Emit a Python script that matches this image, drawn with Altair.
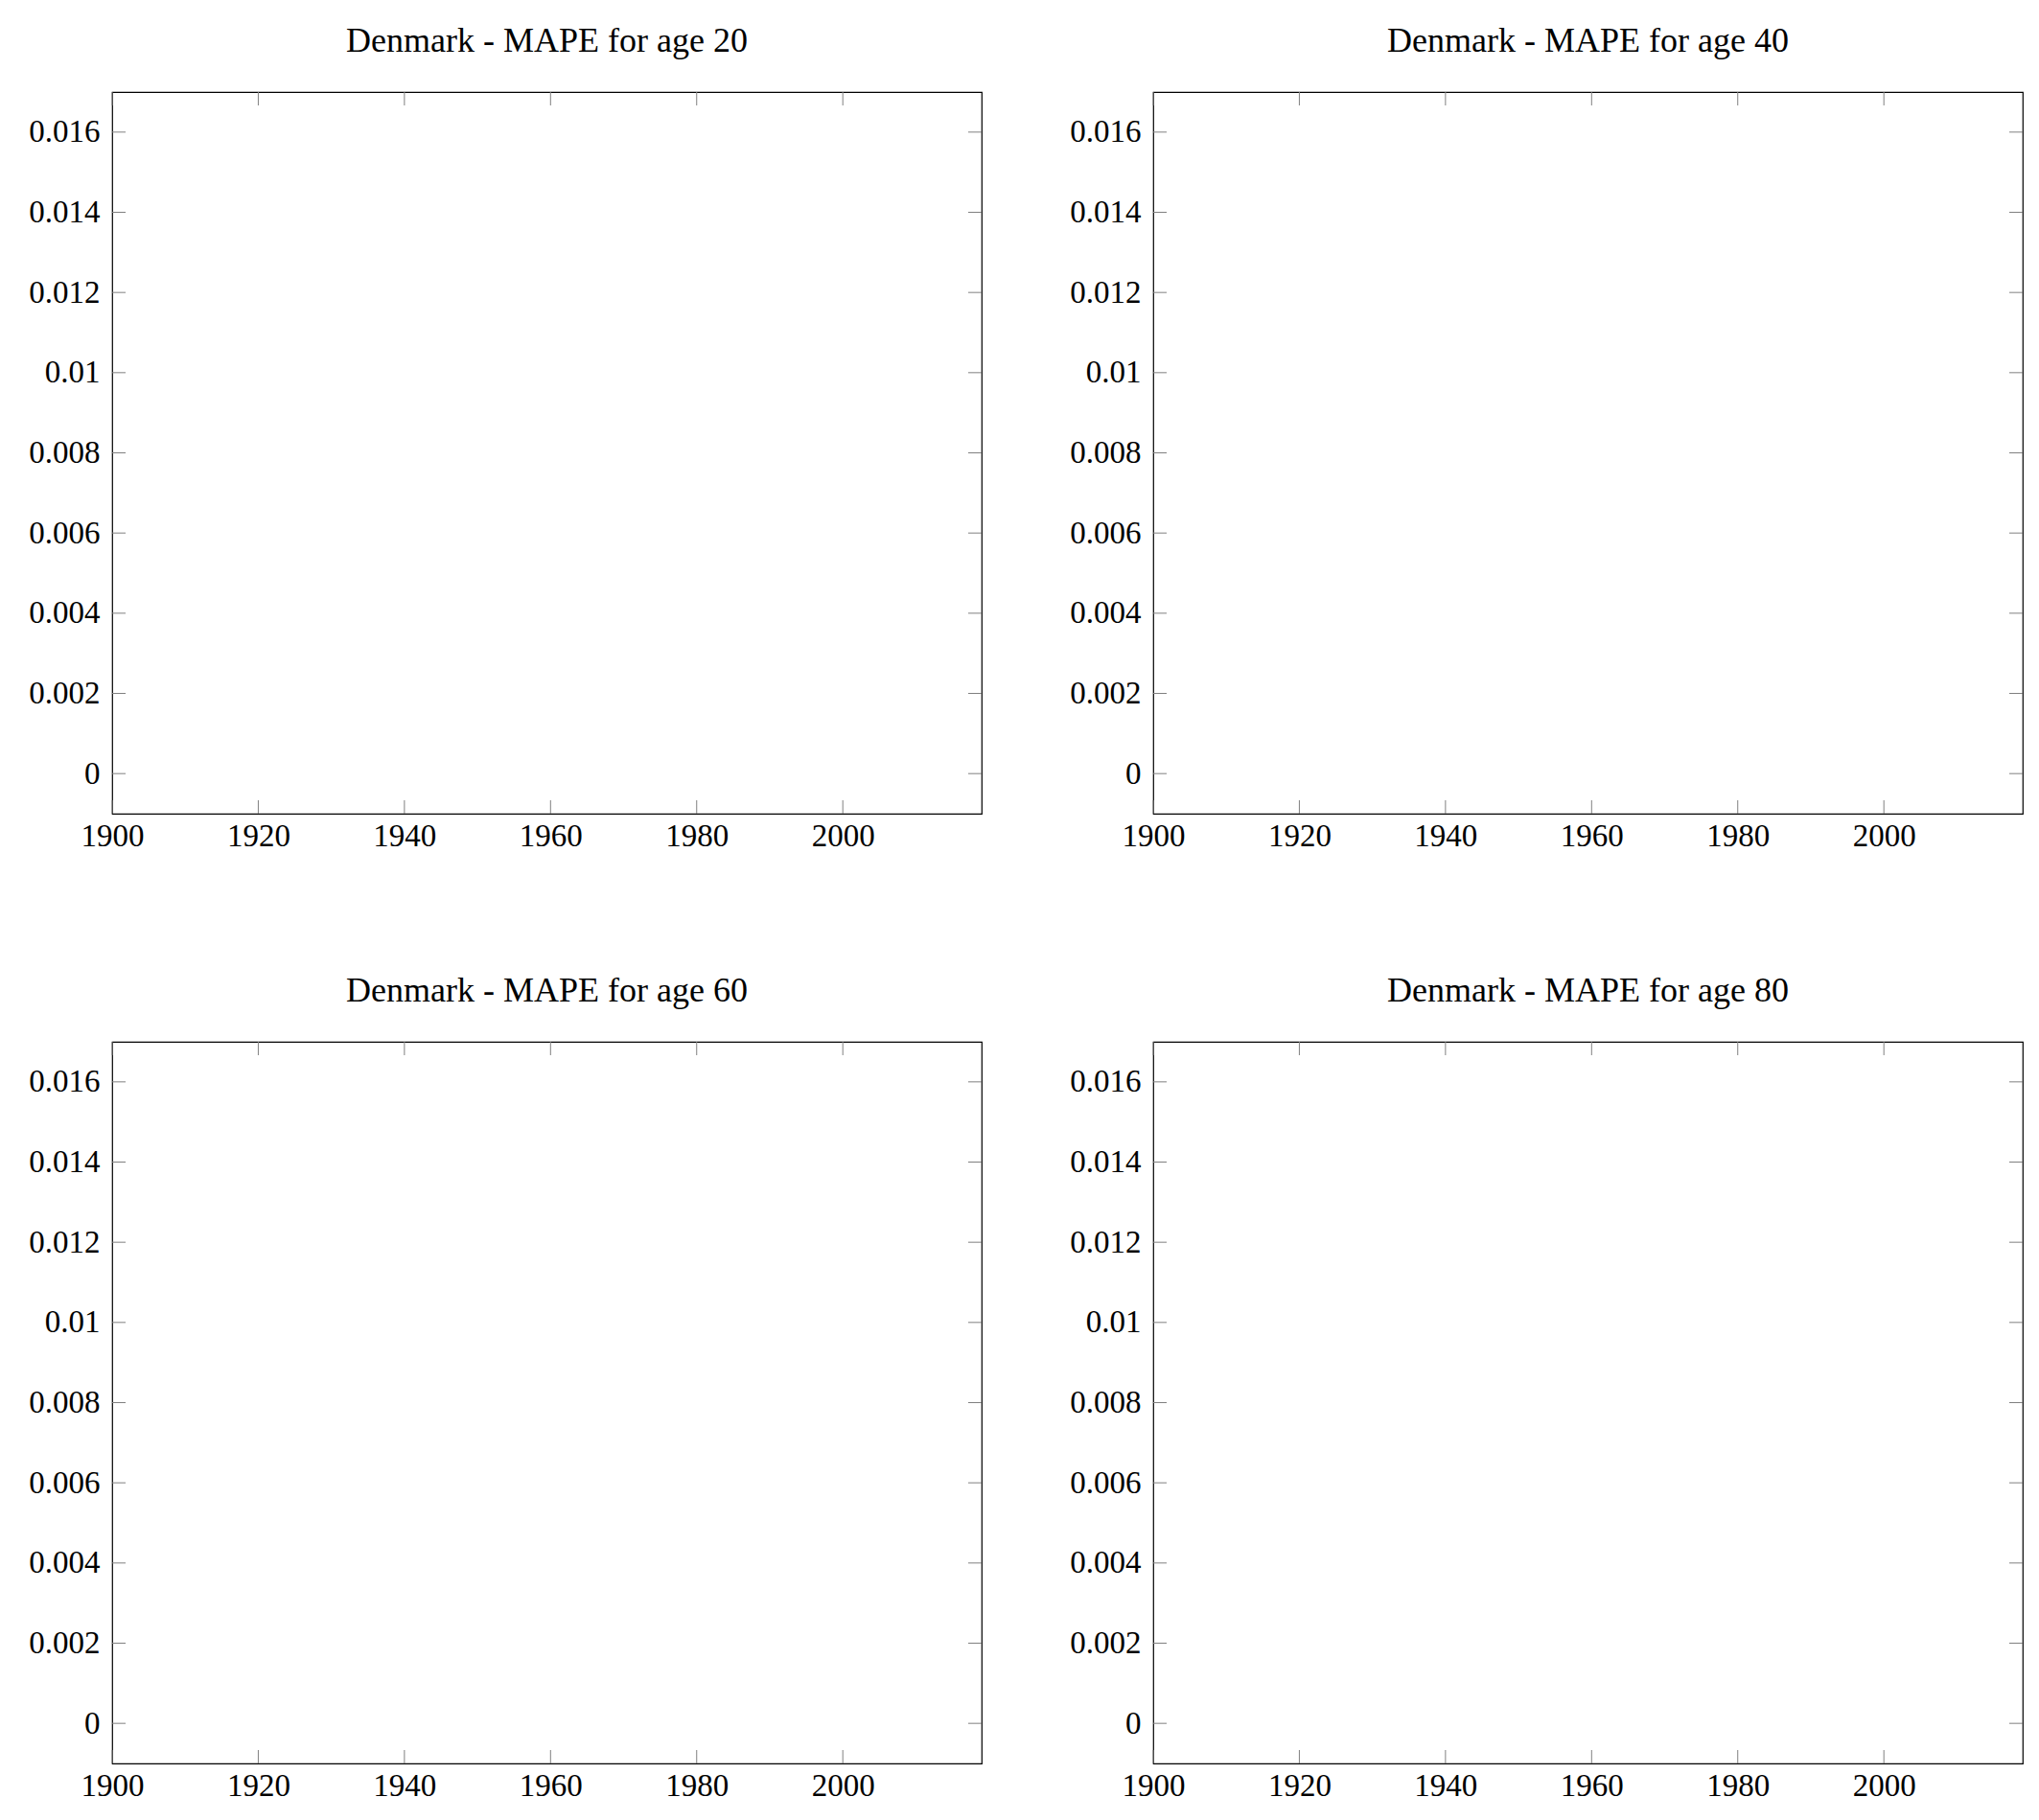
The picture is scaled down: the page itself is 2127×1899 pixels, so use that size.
import altair as alt
import pandas as pd

# ---- data -------------------------------------------------------------
country = "Denmark"
ages = [20, 40, 60, 80]
x_ticks = [1900, 1920, 1940, 1960, 1980, 2000]
y_ticks = [0, 0.002, 0.004, 0.006, 0.008, 0.01, 0.012, 0.014, 0.016]
x_domain = [1900, 2019]
y_domain = [-0.001, 0.017]

# ---- layout / style ---------------------------------------------------
W, H = 907, 753
TICK = 14
FONT = "Liberation Serif"
TICK_COLOR = "#808080"

xdf = pd.DataFrame({"year": x_ticks})
ydf = pd.DataFrame({"v": y_ticks})

xs = alt.Scale(domain=x_domain, nice=False, zero=False)
ys = alt.Scale(domain=y_domain, nice=False, zero=False)

x_axis = alt.Axis(values=x_ticks, format="d", ticks=False, domain=False, grid=False,
                  labelFont=FONT, labelFontSize=33, labelColor="black",
                  labelPadding=7, title=None, minExtent=45, maxExtent=45,
                  labelFlush=False, labelOverlap=False)
y_axis = alt.Axis(values=y_ticks, format="~g", ticks=False, domain=False, grid=False,
                  labelFont=FONT, labelFontSize=33, labelColor="black",
                  labelPadding=13, title=None, minExtent=108, maxExtent=108,
                  labelFlush=False, labelOverlap=False)


def panel(age):
    xb = alt.Chart(xdf).mark_rule(color=TICK_COLOR, strokeWidth=1).encode(
        x=alt.X("year:Q", scale=xs, axis=x_axis),
        y=alt.value(H), y2=alt.value(H - TICK))
    xt = alt.Chart(xdf).mark_rule(color=TICK_COLOR, strokeWidth=1).encode(
        x=alt.X("year:Q", scale=xs, axis=x_axis),
        y=alt.value(0), y2=alt.value(TICK))
    yl = alt.Chart(ydf).mark_rule(color=TICK_COLOR, strokeWidth=1).encode(
        y=alt.Y("v:Q", scale=ys, axis=y_axis),
        x=alt.value(0), x2=alt.value(TICK))
    yr = alt.Chart(ydf).mark_rule(color=TICK_COLOR, strokeWidth=1).encode(
        y=alt.Y("v:Q", scale=ys, axis=y_axis),
        x=alt.value(W), x2=alt.value(W - TICK))
    return alt.layer(xb, xt, yl, yr).properties(
        width=W, height=H,
        title=alt.TitleParams(text=f"{country} - MAPE for age {age}", font=FONT,
                              fontSize=36, fontWeight="normal", color="black",
                              anchor="middle", baseline="alphabetic", offset=6),
    )


row1 = alt.hconcat(panel(ages[0]), panel(ages[1]), spacing=68)
row2 = alt.hconcat(panel(ages[2]), panel(ages[3]), spacing=68)

chart = alt.vconcat(row1, row2, spacing=119).properties(
    padding={"top": 15, "left": 0, "right": 0, "bottom": 0},
    background="white",
).configure_view(stroke="black", strokeWidth=1.2)

chart.save("out.html", embed_options={"renderer": "svg", "actions": False})
